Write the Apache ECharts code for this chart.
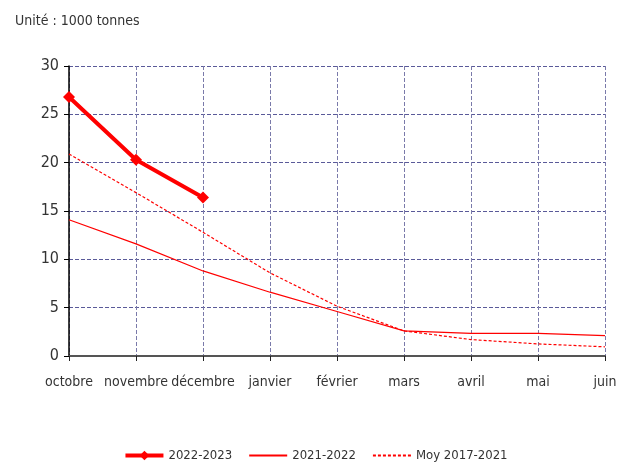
<!DOCTYPE html>
<html><head><meta charset="utf-8">
<script src="https://cdn.jsdelivr.net/npm/echarts@6/dist/echarts.min.js"></script>
<style>html,body{margin:0;padding:0;background:#fff}#c{width:631px;height:470px}</style>
</head><body><div id="c"></div>
<script>
var categories = ['octobre','novembre','décembre','janvier','février','mars','avril','mai','juin'];
var s2022_2023 = [26.8, 20.3, 16.4, null, null, null, null, null, null];
var s2021_2022 = [14.1, 11.6, 8.8, 6.6, 4.6, 2.6, 2.35, 2.35, 2.1];
var sMoy = [20.9, 16.9, 12.8, 8.6, 5.15, 2.6, 1.7, 1.25, 0.95];
var seriesNames = ['2022-2023', '2021-2022', 'Moy 2017-2021'];
var yTicks = {min: 0, max: 30, interval: 5};
var FONT = '"Liberation Sans Narrow", "DejaVu Sans Condensed", "Liberation Sans", Arial, sans-serif';
var chart = echarts.init(document.getElementById('c'));
chart.setOption({
  animation: false,
  textStyle: {fontFamily: FONT},
  title: {text: 'Unité : 1000 tonnes', left: 10, top: 9,
    textStyle: {fontFamily: FONT, fontSize: 14, fontWeight: 'normal', color: '#333'}},
  grid: {left: 69, right: 26, top: 66, bottom: 114, containLabel: false},
  legend: {bottom: 3, left: 'center', itemGap: 16, itemWidth: 38, itemHeight: 12,
    textStyle: {fontFamily: FONT, fontSize: 13, color: '#333'},
    data: [
      {name: seriesNames[0], lineStyle: {width: 4}, itemStyle: {color: '#ff0000'}},
      {name: seriesNames[1], itemStyle: {opacity: 0}},
      {name: seriesNames[2], itemStyle: {opacity: 0}}
    ]},
  xAxis: {type: 'category', data: categories, boundaryGap: false,
    axisLine: {lineStyle: {color: '#555', width: 2}},
    axisTick: {show: true, alignWithLabel: true, length: 5, lineStyle: {color: '#222'}},
    axisLabel: {fontFamily: FONT, fontSize: 14, color: '#333', margin: 19, interval: 0},
    splitLine: {show: true, lineStyle: {type: [4, 2], color: '#7a7aaa', width: 1}}},
  yAxis: {type: 'value', min: yTicks.min, max: yTicks.max, interval: yTicks.interval,
    axisLine: {show: true, lineStyle: {color: '#000', width: 1.5}},
    axisTick: {show: true, length: 5, lineStyle: {color: '#000'}},
    axisLabel: {fontFamily: FONT, fontSize: 16, color: '#333', margin: 10},
    splitLine: {show: true, lineStyle: {type: [4, 2], color: '#5a5a99', width: 1}}},
  series: [
    {name: seriesNames[0], type: 'line', data: s2022_2023, symbol: 'diamond', symbolSize: 12,
      showSymbol: true, connectNulls: false,
      lineStyle: {color: '#ff0000', width: 4}, itemStyle: {color: '#ff0000'}, z: 5},
    {name: seriesNames[1], type: 'line', data: s2021_2022, symbol: 'none',
      lineStyle: {color: '#ff0000', width: 1.2}, itemStyle: {color: '#ff0000'}},
    {name: seriesNames[2], type: 'line', data: sMoy, symbol: 'none',
      lineStyle: {color: '#ff0000', width: 1.2, type: [3, 2]}, itemStyle: {color: '#ff0000'}}
  ]
});
</script></body></html>
